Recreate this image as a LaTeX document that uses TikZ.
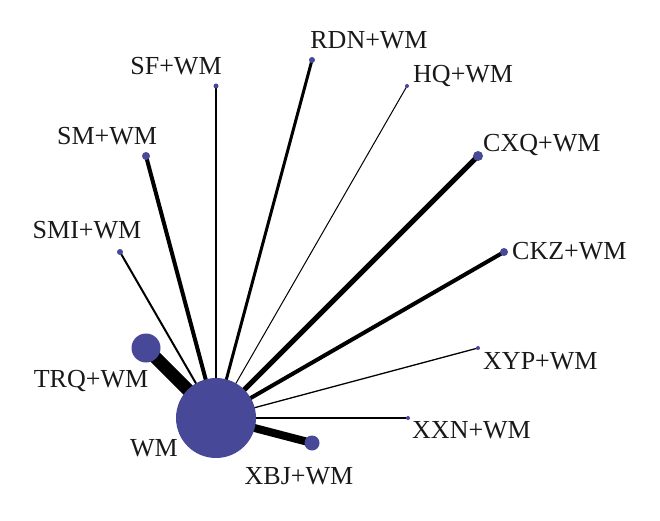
\documentclass[tikz,border=0pt]{standalone}
\usepackage{xcolor}
\usepackage{fontspec}
\setmainfont{Liberation Serif}
\usepackage{tikz}
\usetikzlibrary{positioning, backgrounds}
\definecolor{nodeblue}{RGB}{72, 72, 152}

\begin{document}
\begin{tikzpicture}[x=1pt, y=1pt,
    arm/.style={circle, fill=nodeblue, inner sep=0pt, minimum size=#1},
    link/.style={line width=#1, draw=black},
    lbl/.style={font=\fontsize{26}{30}\selectfont, inner sep=0pt, text=black!90}
]
    \useasboundingbox (0,0) rectangle (660,520);
    % treatment nodes
    \node[arm=80pt] (wm) at (216,102) {};
    \node[arm=29pt] (trq) at (146,172) {};
    \node[arm=15pt] (xbj) at (312,77) {};
    \node[arm=4pt] (xxn) at (408,102) {};
    \node[arm=4pt] (xyp) at (478,172) {};
    \node[arm=8pt] (ckz) at (504,268) {};
    \node[arm=10pt] (cxq) at (478,364) {};
    \node[arm=4pt] (hq) at (407,434) {};
    \node[arm=6pt] (rdn) at (312,460) {};
    \node[arm=5pt] (sf) at (216,434) {};
    \node[arm=8pt] (sm) at (146,364) {};
    \node[arm=6pt] (smi) at (120,268) {};

    % comparisons
    \begin{scope}[on background layer]
        \draw[link=13pt] (wm.center) -- (trq.center);
        \draw[link=8pt] (wm.center) -- (xbj.center);
        \draw[link=1.5pt] (wm.center) -- (xxn.center);
        \draw[link=1.3pt] (wm.center) -- (xyp.center);
        \draw[link=4pt] (wm.center) -- (ckz.center);
        \draw[link=5pt] (wm.center) -- (cxq.center);
        \draw[link=1pt] (wm.center) -- (hq.center);
        \draw[link=3pt] (wm.center) -- (rdn.center);
        \draw[link=2.5pt] (wm.center) -- (sf.center);
        \draw[link=4pt] (wm.center) -- (sm.center);
        \draw[link=2pt] (wm.center) -- (smi.center);
    \end{scope}

    % labels
    \node[lbl, anchor=base] (wmlbl) at (154,64) {WM};
    \node[lbl, anchor=base] (trqlbl) at (91,133) {TRQ+WM};
    \node[lbl, anchor=base] (xbjlbl) at (299,36) {XBJ+WM};
    \node[lbl, anchor=base west] (xxnlbl) at (412,82) {XXN+WM};
    \node[lbl, anchor=base west] (xyplbl) at (483,151) {XYP+WM};
    \node[lbl, anchor=base west] (ckzlbl) at (512,261) {CKZ+WM};
    \node[lbl, anchor=base west] (cxqlbl) at (483,368) {CXQ+WM};
    \node[lbl, anchor=base west] (hqlbl) at (413,437) {HQ+WM};
    \node[lbl, anchor=base] (rdnlbl) at (369,471) {RDN+WM};
    \node[lbl, anchor=base] (sflbl) at (176,445) {SF+WM};
    \node[lbl, anchor=base] (smlbl) at (107,375) {SM+WM};
    \node[lbl, anchor=base] (smilbl) at (87,282) {SMI+WM};
\end{tikzpicture}
\end{document}
